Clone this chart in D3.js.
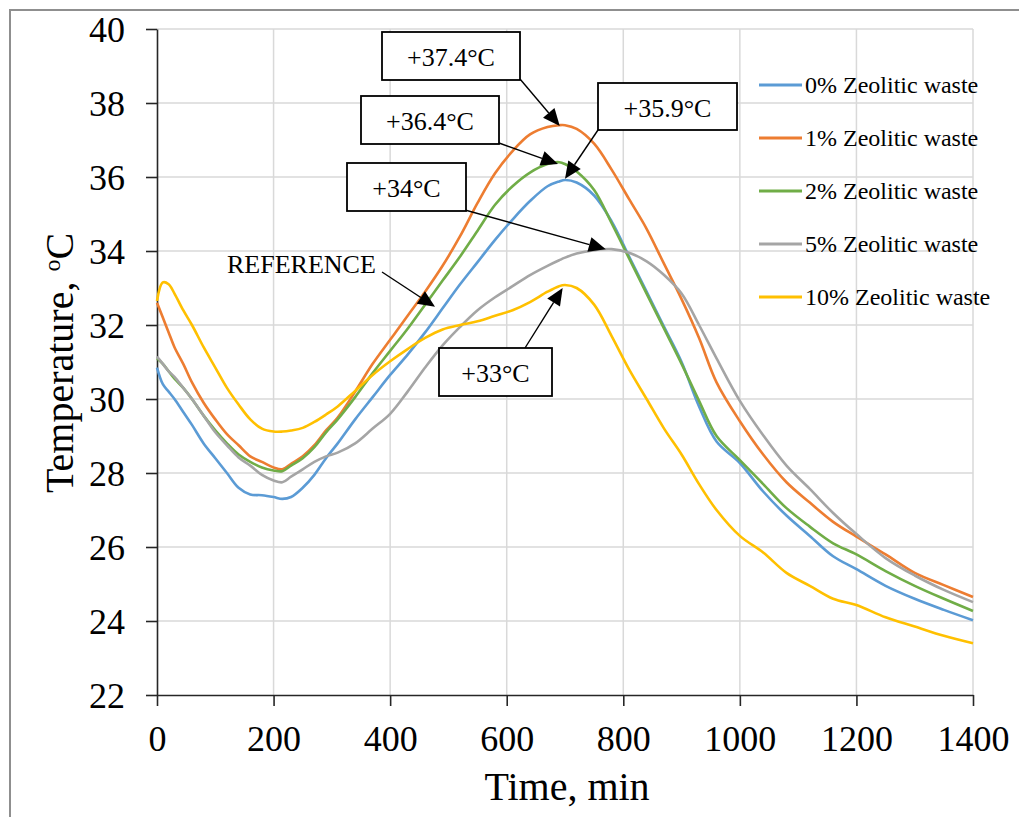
<!DOCTYPE html>
<html><head><meta charset="utf-8">
<script src="https://cdn.jsdelivr.net/npm/d3@7"></script>
<style>
body{margin:0;background:#fff}
svg{display:block}
text{font-family:"Liberation Serif","Times New Roman",serif;fill:#000}
</style>
</head><body>
<svg id="c" width="1019" height="817"></svg>
<script>
// ---------- data ----------
const timeMin = [0,10,20,30,45,60,80,100,120,140,160,180,200,215,230,250,270,290,310,340,370,400,430,460,490,520,550,580,610,640,670,690,700,720,750,780,810,840,870,900,930,960,1000,1040,1080,1120,1160,1200,1250,1300,1350,1400];
const zeo0  = [30.85,30.4,30.2,30.0,29.65,29.3,28.8,28.4,28.0,27.6,27.42,27.4,27.35,27.3,27.35,27.6,27.95,28.4,28.8,29.45,30.05,30.65,31.2,31.8,32.45,33.1,33.7,34.3,34.85,35.35,35.75,35.88,35.92,35.85,35.5,34.8,33.85,32.9,31.95,31.0,29.8,28.85,28.27,27.5,26.85,26.3,25.75,25.4,24.95,24.6,24.3,24.02];
const zeo1  = [32.6,32.2,31.8,31.4,30.95,30.45,29.9,29.45,29.05,28.75,28.45,28.3,28.15,28.1,28.25,28.45,28.75,29.15,29.5,30.2,30.95,31.6,32.25,32.9,33.6,34.4,35.3,36.1,36.7,37.15,37.35,37.4,37.4,37.3,36.9,36.2,35.4,34.6,33.65,32.7,31.65,30.45,29.4,28.5,27.75,27.2,26.68,26.28,25.8,25.3,24.97,24.65];
const zeo2  = [31.1,30.95,30.75,30.55,30.3,30.0,29.55,29.15,28.8,28.5,28.3,28.15,28.07,28.05,28.2,28.4,28.7,29.1,29.45,30.05,30.7,31.3,31.9,32.55,33.2,33.85,34.55,35.25,35.75,36.12,36.35,36.4,36.35,36.15,35.65,34.75,33.8,32.85,31.9,30.95,29.95,29.0,28.35,27.7,27.05,26.55,26.1,25.8,25.35,24.95,24.6,24.27];
const zeo5  = [31.15,30.95,30.75,30.6,30.3,30.0,29.55,29.1,28.75,28.42,28.2,27.95,27.8,27.75,27.9,28.1,28.3,28.45,28.55,28.8,29.2,29.6,30.2,30.85,31.45,31.95,32.4,32.75,33.05,33.35,33.6,33.75,33.82,33.93,34.02,34.05,33.95,33.72,33.35,32.85,32.0,31.1,29.95,29.02,28.2,27.57,26.92,26.35,25.7,25.23,24.84,24.51];
const zeo10 = [32.65,33.15,33.1,32.85,32.4,32.0,31.4,30.85,30.3,29.85,29.45,29.2,29.12,29.12,29.15,29.22,29.38,29.58,29.8,30.22,30.65,31.02,31.35,31.65,31.88,32.0,32.1,32.25,32.4,32.62,32.9,33.05,33.08,33.0,32.55,31.7,30.8,30.0,29.2,28.5,27.7,27.0,26.3,25.85,25.3,24.95,24.6,24.43,24.1,23.85,23.6,23.4];

const seriesNames = ["0% Zeolitic waste","1% Zeolitic waste","2% Zeolitic waste","5% Zeolitic waste","10% Zeolitic waste"];
const seriesValues = [zeo0, zeo1, zeo2, zeo5, zeo10];
const seriesColors = ["#5B9BD5","#ED7D31","#70AD47","#A5A5A5","#FFC000"];

const xTicks = [0,200,400,600,800,1000,1200,1400];
const yTicks = [22,24,26,28,30,32,34,36,38,40];

const noteLabels = ["+37.4°C","+36.4°C","+35.9°C","+34°C","+33°C","REFERENCE"];
const noteTimes  = [691,688,700,770,696,477];
const noteTemps  = [37.38,36.35,35.95,34.05,33.0,32.49];

// ---------- layout ----------
const noteLayout = [
  {bx:382,by:32,bw:138,bh:48,sx:520,sy:79},
  {bx:361,by:96,bw:138,bh:48,sx:499,sy:143},
  {bx:598,by:83,bw:139,bh:47,sx:598,sy:130},
  {bx:347,by:163,bw:119,bh:48,sx:465,sy:210},
  {bx:439,by:348,bw:113,bh:48,sx:525,sy:348},
  {tx:227,ty:273,sx:382,sy:272}
];

const svg = d3.select("#c");
const x = d3.scaleLinear().domain([0,1400]).range([157,973]);
const y = d3.scaleLinear().domain([22,40]).range([695,29]);

// outer frame
svg.append("rect").attr("x",10).attr("y",10).attr("width",1300).attr("height",1000)
  .attr("fill","none").attr("stroke","#8f8f8f").attr("stroke-width",2);

// grid
const grid = svg.append("g");
grid.selectAll("line.gy").data(yTicks.slice(1)).join("line").attr("class","gy")
  .attr("x1",x(0)).attr("x2",x(1400)).attr("y1",d=>y(d)).attr("y2",d=>y(d))
  .attr("stroke","#d9d9d9").attr("stroke-width",1.5);
grid.selectAll("line.gx").data(xTicks.slice(1)).join("line").attr("class","gx")
  .attr("y1",y(22)).attr("y2",y(40)).attr("x1",d=>x(d)).attr("x2",d=>x(d))
  .attr("stroke","#d9d9d9").attr("stroke-width",1.5);

// axes
const axColor = "#262626";
const yAxis = svg.append("g").attr("transform",`translate(${x(0)},0)`)
  .call(d3.axisLeft(y).tickValues(yTicks).tickSize(11).tickSizeOuter(0).tickPadding(21).tickFormat(d3.format("d")));
const xAxis = svg.append("g").attr("transform",`translate(0,${y(22)})`)
  .call(d3.axisBottom(x).tickValues(xTicks).tickSize(11).tickSizeOuter(0).tickPadding(20).tickFormat(d3.format("d")));
[yAxis,xAxis].forEach(a=>{
  a.select(".domain").attr("stroke",axColor).attr("stroke-width",1.6);
  a.selectAll(".tick line").attr("stroke",axColor).attr("stroke-width",1.6);
  a.selectAll(".tick text").attr("font-family","Liberation Serif, serif").attr("font-size",36).attr("fill","#000");
});
yAxis.selectAll(".tick text").attr("dy","0.34em");
xAxis.selectAll(".tick text").attr("dy","0.7em");

// axis titles
const yt = svg.append("text").attr("transform","translate(73,363) rotate(-90)")
  .attr("text-anchor","middle").attr("font-size",40);
yt.append("tspan").text("Temperature, ");
yt.append("tspan").attr("font-size",24).attr("dy",-13).text("o");
yt.append("tspan").attr("dy",13).text("C");
svg.append("text").attr("x",567).attr("y",800).attr("text-anchor","middle").attr("font-size",40).text("Time, min");

// series
const line = d3.line().x(d=>x(d.t)).y(d=>y(d.v)).curve(d3.curveCatmullRom.alpha(0.5));
seriesValues.forEach((vals,i)=>{
  const pts = timeMin.map((t,j)=>({t:t,v:vals[j]}));
  svg.append("path").datum(pts).attr("d",line).attr("fill","none")
    .attr("stroke",seriesColors[i]).attr("stroke-width",2.6).attr("stroke-linejoin","round");
});

// legend
const leg = svg.append("g");
seriesNames.forEach((n,i)=>{
  const cy = 85 + i*53;
  leg.append("line").attr("x1",759).attr("x2",802).attr("y1",cy).attr("y2",cy)
    .attr("stroke",seriesColors[i]).attr("stroke-width",3);
  leg.append("text").attr("x",805).attr("y",cy+8).attr("font-size",24).text(n);
});

// annotations
const notes = svg.append("g");
noteLabels.forEach((lab,i)=>{
  const L = noteLayout[i];
  const tx = x(noteTimes[i]), ty = y(noteTemps[i]);
  const dx = tx-L.sx, dy = ty-L.sy, len = Math.hypot(dx,dy);
  const ux = dx/len, uy = dy/len, hl = 17, hw = 7.5;
  const bx = tx-ux*hl, by = ty-uy*hl;
  notes.append("line").attr("x1",L.sx).attr("y1",L.sy).attr("x2",bx).attr("y2",by)
    .attr("stroke","#000").attr("stroke-width",1.4);
  notes.append("polygon").attr("points",[[tx,ty],[bx-uy*hw,by+ux*hw],[bx+uy*hw,by-ux*hw]].map(p=>p.join(",")).join(" "))
    .attr("fill","#000");
  if (L.bw) {
    notes.append("rect").attr("x",L.bx).attr("y",L.by).attr("width",L.bw).attr("height",L.bh)
      .attr("fill","#fff").attr("stroke","#000").attr("stroke-width",1.8);
    notes.append("text").attr("x",L.bx+L.bw/2).attr("y",L.by+34).attr("text-anchor","middle")
      .attr("font-size",26).text(lab);
  } else {
    notes.append("text").attr("x",L.tx).attr("y",L.ty).attr("font-size",26).text(lab);
  }
});
</script>
</body></html>
